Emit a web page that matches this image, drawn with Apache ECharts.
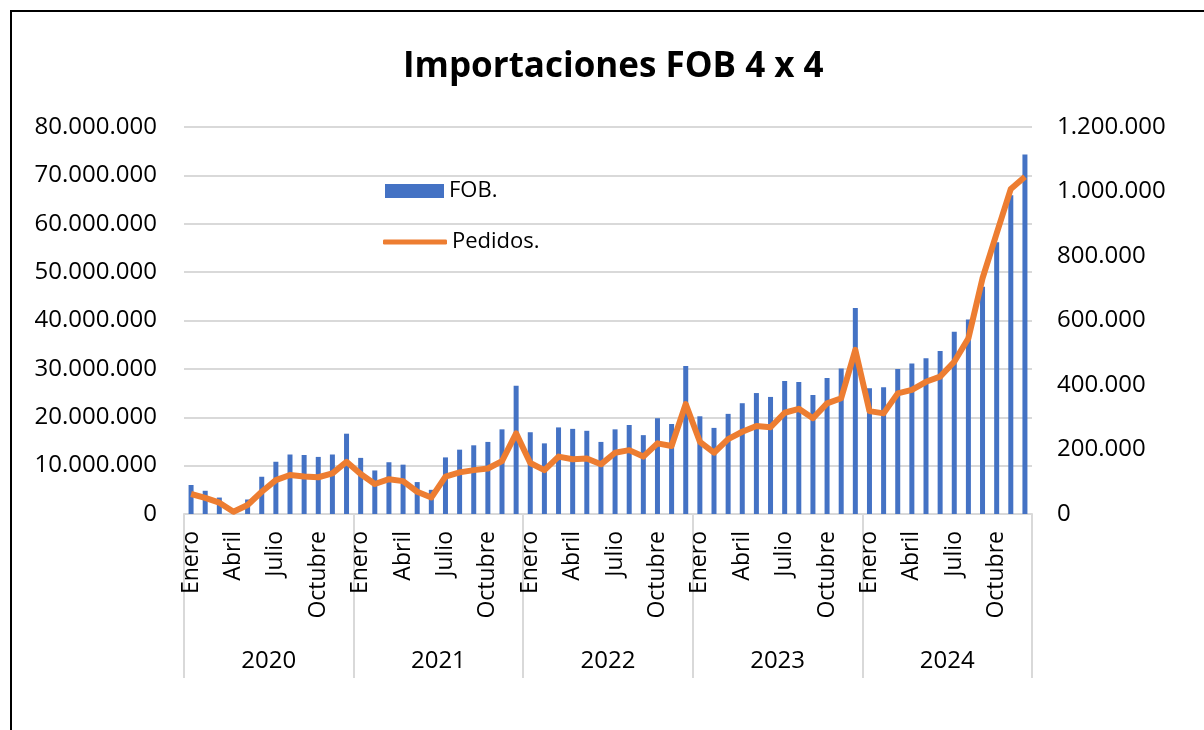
<!DOCTYPE html>
<html>
<head>
<meta charset="utf-8">
<title>Importaciones FOB 4 x 4</title>
<script src="https://cdn.jsdelivr.net/npm/echarts@6/dist/echarts.min.js"></script>
<style>
    html, body { margin: 0; padding: 0; background: #fff; }
    #main { width: 1204px; height: 730px; }
</style>
</head>
<body>
<div id="main"></div>
<script>
// meses y años del eje
var months = ['Enero','Febrero','Marzo','Abril','Mayo','Junio','Julio','Agosto','Septiembre','Octubre','Noviembre','Diciembre'];
var years = ['2020','2021','2022','2023','2024'];

// FOB (eje izquierdo)
var fob2020 = [6000000, 4800000, 3400000, 400000, 3000000, 7700000, 10800000, 12300000, 12200000, 11800000, 12300000, 16600000];
var fob2021 = [11600000, 9000000, 10700000, 10200000, 6600000, 5000000, 11700000, 13300000, 14200000, 14900000, 17500000, 26500000];
var fob2022 = [16900000, 14600000, 17900000, 17600000, 17200000, 14900000, 17500000, 18400000, 16300000, 19800000, 18600000, 30600000];
var fob2023 = [20200000, 17800000, 20700000, 22900000, 25000000, 24200000, 27500000, 27300000, 24600000, 28100000, 30100000, 42600000];
var fob2024 = [26000000, 26200000, 30000000, 31100000, 32200000, 33700000, 37700000, 40200000, 47000000, 56200000, 65900000, 74300000];

// Pedidos (eje derecho)
var ped2020 = [62000, 50000, 35000, 7000, 28000, 69000, 105000, 121000, 116000, 114000, 126000, 162000];
var ped2021 = [124000, 93000, 108000, 102000, 69000, 51000, 116000, 129000, 136000, 141000, 164000, 250000];
var ped2022 = [158000, 136000, 178000, 170000, 172000, 154000, 190000, 198000, 178000, 219000, 211000, 341000];
var ped2023 = [224000, 190000, 232000, 255000, 273000, 269000, 314000, 326000, 297000, 343000, 359000, 509000];
var ped2024 = [319000, 312000, 374000, 385000, 410000, 426000, 472000, 545000, 731000, 870000, 1008000, 1046000];

var categories = [];
years.forEach(function (y) {
    months.forEach(function (m) { categories.push(m); });
});
var fob = fob2020.concat(fob2021, fob2022, fob2023, fob2024);
var pedidos = ped2020.concat(ped2021, ped2022, ped2023, ped2024);

var FONT = 'Open Sans';

function fmt(v) {
    return String(v).replace(/\B(?=(\d{3})+(?!\d))/g, '.');
}

var myChart = echarts.init(document.getElementById('main'));
var option = {
    animation: false,
    backgroundColor: '#fff',
    textStyle: { fontFamily: FONT, color: '#000' },
    title: {
        text: 'Importaciones FOB 4 x 4',
        left: 398,
        top: 42,
        textStyle: { fontFamily: FONT, fontSize: 35, fontWeight: 'bold', color: '#000', lineHeight: 40 }
    },
    graphic: [{
        type: 'rect',
        shape: { x: 11, y: 11, width: 1220, height: 740 },
        style: { fill: 'none', stroke: '#000', lineWidth: 2 },
        silent: true
    }],
    legend: [{
        data: [{ name: 'FOB.', icon: 'rect' }],
        left: 380,
        top: 173,
        itemWidth: 59,
        itemHeight: 14,
        itemGap: 5,
        textStyle: { fontFamily: FONT, fontSize: 22, color: '#000', lineHeight: 26 }
    }, {
        data: [{ name: 'Pedidos.', icon: 'roundRect' }],
        left: 378,
        top: 224,
        itemWidth: 64,
        itemHeight: 5,
        textStyle: { fontFamily: FONT, fontSize: 22, color: '#000', lineHeight: 26 }
    }],
    grid: { left: 184, right: 172, top: 127, bottom: 216, containLabel: false },
    xAxis: [{
        type: 'category',
        data: categories,
        boundaryGap: true,
        axisLine: { show: true, lineStyle: { color: '#d9d9d9', width: 2 } },
        axisTick: { show: false },
        axisLabel: {
            interval: 2,
            rotate: 90,
            margin: 17,
            fontFamily: FONT,
            fontSize: 23,
            color: '#000'
        }
    }, {
        type: 'category',
        data: years,
        position: 'bottom',
        boundaryGap: true,
        axisLine: { show: false },
        axisTick: { show: true, length: 164, lineStyle: { color: '#d9d9d9', width: 2 } },
        axisLabel: { margin: 135, fontFamily: FONT, fontSize: 24, color: '#000' }
    }],
    yAxis: [{
        type: 'value',
        min: 0,
        max: 80000000,
        interval: 10000000,
        axisLine: { show: false },
        axisTick: { show: false },
        splitLine: { lineStyle: { color: '#d9d9d9', width: 2 } },
        axisLabel: { margin: 27, fontFamily: FONT, fontSize: 24, color: '#000', formatter: fmt }
    }, {
        type: 'value',
        min: 0,
        max: 1200000,
        interval: 200000,
        position: 'right',
        axisLine: { show: false },
        axisTick: { show: false },
        splitLine: { show: false },
        axisLabel: { margin: 25, fontFamily: FONT, fontSize: 24, color: '#000', formatter: fmt }
    }],
    series: [{
        name: 'FOB.',
        type: 'bar',
        xAxisIndex: 0,
        yAxisIndex: 0,
        barWidth: 5,
        itemStyle: { color: '#4472c4' },
        data: fob
    }, {
        name: 'Pedidos.',
        type: 'line',
        xAxisIndex: 0,
        yAxisIndex: 1,
        symbol: 'none',
        lineStyle: { color: '#ed7d31', width: 6, join: 'round' },
        itemStyle: { color: '#ed7d31' },
        data: pedidos
    }]
};
myChart.setOption(option);
</script>
</body>
</html>
